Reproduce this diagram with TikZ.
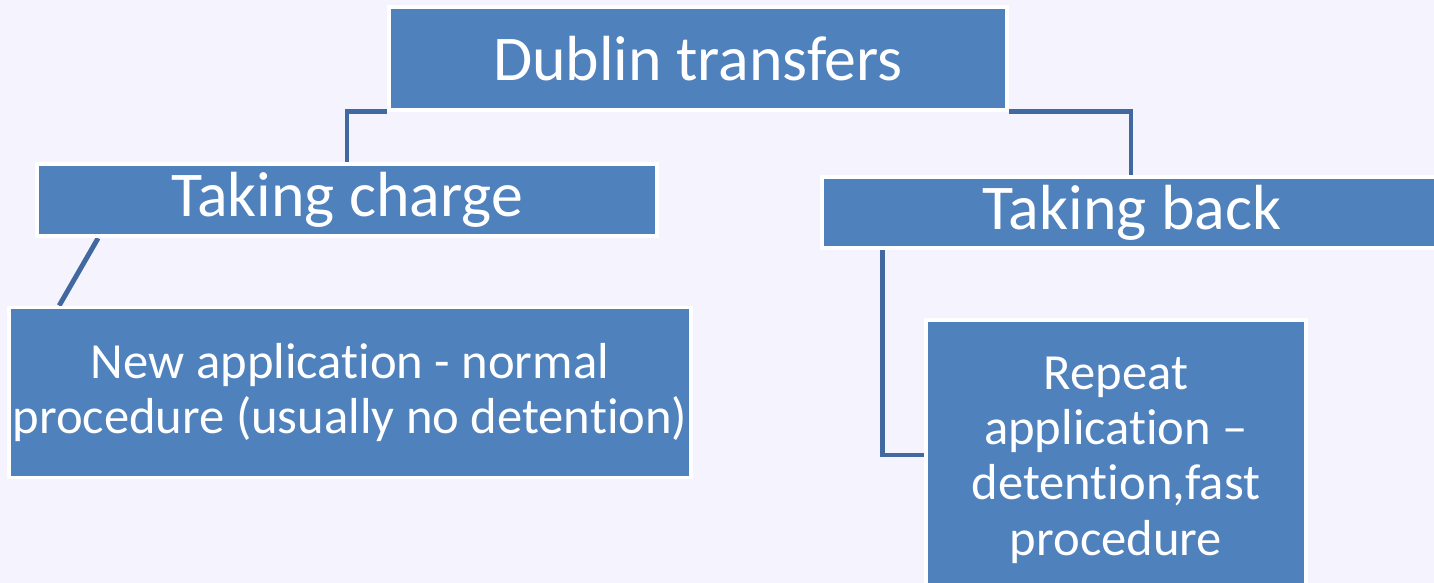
\documentclass[tikz,border=0pt]{standalone}
\usepackage{fontspec}
\setmainfont{Carlito}[RawFeature={-liga;-clig;-calt;-dlig}]
\usepackage{xcolor}
\usepackage{tikz}
\usetikzlibrary{positioning, backgrounds}

\definecolor{boxblue}{HTML}{4F81BD}
\definecolor{linkblue}{HTML}{4169A0}
\definecolor{paper}{HTML}{F5F3FD}

\begin{document}
\begin{tikzpicture}[
    block/.style={rectangle, draw=white, line width=2.2pt, fill=boxblue, text=white, align=center, inner sep=2pt},
    headblock/.style={block, font=\fontsize{36.3}{40}\selectfont},
    leafblock/.style={block, font=\fontsize{28.8}{31.5}\selectfont},
    link/.style={draw=linkblue, line width=2.8pt},
]

% ---- Canvas ----
\useasboundingbox (0,0) rectangle (28.68,-11.66);

% ---- Top level ----
\node[headblock, minimum width=12.35cm, minimum height=2.05cm] (dublin) at (13.96,-1.17) {Dublin transfers};

% ---- Second level ----
\node[headblock, minimum width=12.4cm, minimum height=1.45cm] (charge) at (6.94,-4.0) {Taking charge};
\node[headblock, minimum width=12.4cm, minimum height=1.42cm] (back) at (22.64,-4.25) {Taking back};

% ---- Third level ----
\node[leafblock, minimum width=13.6cm, minimum height=3.4cm] (newapp) at (7.0,-7.85) {New application - normal\\procedure (usually no detention)};
\node[leafblock, minimum width=7.6cm, minimum height=5.6cm] (repeat) at (22.32,-9.2) {Repeat\\application --\\detention,fast\\procedure};

% Connectors behind boxes
\begin{scope}[on background layer]
  \fill[paper] (0,0) rectangle (28.68,-11.66);
  \draw[link] (charge.north) |- (dublin.south west);
  \draw[link] (dublin.south east) -| ([xshift=-0.02cm]back.north);
  \draw[link] ([xshift=1.26cm]charge.south west) -- ([xshift=1.04cm]newapp.north west);
  \draw[link] ([xshift=1.24cm]back.south west) |- ([yshift=0.1cm]repeat.west);
\end{scope}

\end{tikzpicture}
\end{document}
